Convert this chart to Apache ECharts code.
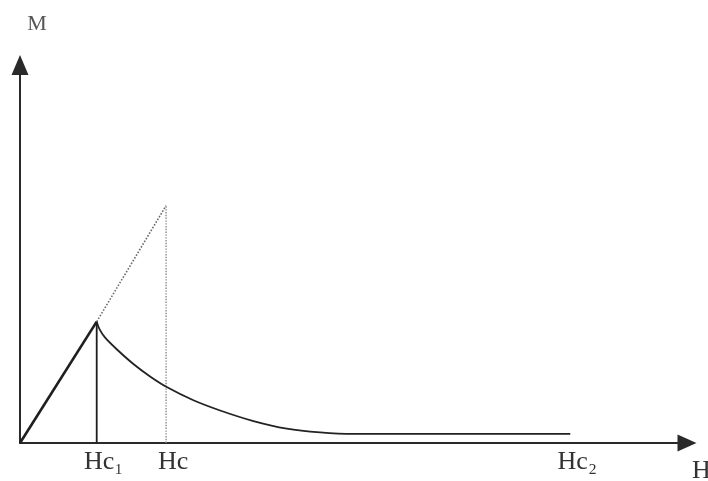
<!DOCTYPE html>
<html>
<head>
<meta charset="utf-8">
<script src="https://cdn.jsdelivr.net/npm/echarts@6/dist/echarts.min.js"></script>
<style>
html,body{margin:0;padding:0;background:#fff;}
#c{width:708px;height:481px;}
</style>
</head>
<body>
<div id="c"></div>
<script>
// critical fields (H axis units) and tick labels
const tickValues = [11.5, 21.9, 82.5];
const tickLabels = ['Hc\u2081', 'Hc', 'Hc\u2082'];
const axisNames = { x: 'H', y: 'M' };

// Meissner (solid) part: origin to Hc1
const meissnerH = [0, 11.5];
const meissnerM = [0, 32.1];
// dotted extension up to Hc
const extH = [11.5, 21.9];
const extM = [32.1, 62.8];
// vertical line at Hc1
const vHc1H = [11.5, 11.5];
const vHc1M = [0, 32.1];
// dotted vertical at Hc
const vHcH = [21.9, 21.9];
const vHcM = [0, 62.8];
// mixed-state curve from Hc1 to Hc2
const mixedH = [11.5, 11.9, 12.7, 14.5, 17.0, 19.5, 22.0, 26.0, 30.0, 35.0, 40.0, 45.0, 50.0, 82.5];
const mixedM = [32.1, 30.2, 28.0, 24.8, 20.9, 17.6, 14.8, 11.3, 8.6, 5.8, 3.8, 2.8, 2.4, 2.4];

const zip = (a, b) => a.map((v, i) => [v, b[i]]);
const serif = '"Liberation Serif","DejaVu Serif",serif';

const chart = echarts.init(document.getElementById('c'), null, {renderer: 'canvas'});
const lineSeries = (data, opts) => Object.assign({
  type: 'line', data: data, showSymbol: false, symbol: 'none', silent: true,
  animation: false
}, opts);

chart.setOption({
  backgroundColor: '#ffffff',
  animation: false,
  grid: { left: 20, right: 21, top: 65, bottom: 38, containLabel: false, outerBoundsMode: 'none' },
  xAxis: {
    type: 'value', min: 0, max: 100,
    name: axisNames.x, nameLocation: 'end', nameGap: 5,
    nameTextStyle: { fontFamily: serif, fontSize: 26, color: '#333', align: 'left', verticalAlign: 'top', padding: [15, 0, 0, 0] },
    axisLine: { show: true, onZero: true, symbol: ['none', 'triangle'], symbolSize: [17, 19],
      lineStyle: { color: '#2a2a2a', width: 2 } },
    axisTick: { show: false },
    splitLine: { show: false },
    axisLabel: {
      show: true, customValues: tickValues, margin: 6,
      fontFamily: serif, fontSize: 26, color: '#333', padding: [0, 0, 0, 14],
      formatter: (v) => { const i = tickValues.indexOf(v); return i >= 0 ? tickLabels[i] : ''; }
    }
  },
  yAxis: {
    type: 'value', min: 0, max: 100,
    name: axisNames.y, nameLocation: 'end', nameGap: 30,
    nameTextStyle: { fontFamily: serif, fontSize: 22, color: '#555', align: 'center', padding: [0, 0, 0, 34] },
    axisLine: { show: true, symbol: ['none', 'triangle'], symbolSize: [17, 20],
      lineStyle: { color: '#2a2a2a', width: 2 } },
    axisTick: { show: false },
    splitLine: { show: false },
    axisLabel: { show: false }
  },
  series: [
    lineSeries(zip(meissnerH, meissnerM), { lineStyle: { color: '#1e1e1e', width: 2.6 } }),
    lineSeries(zip(vHc1H, vHc1M), { lineStyle: { color: '#1e1e1e', width: 1.8 } }),
    lineSeries(zip(extH, extM), { lineStyle: { color: '#6a6a6a', width: 1.6, type: 'dotted' } }),
    lineSeries(zip(vHcH, vHcM), { lineStyle: { color: '#8a8a8a', width: 1.4, type: 'dotted' } }),
    lineSeries(zip(mixedH, mixedM), { smooth: 0.3, lineStyle: { color: '#222', width: 1.8 } })
  ]
});
</script>
</body>
</html>
